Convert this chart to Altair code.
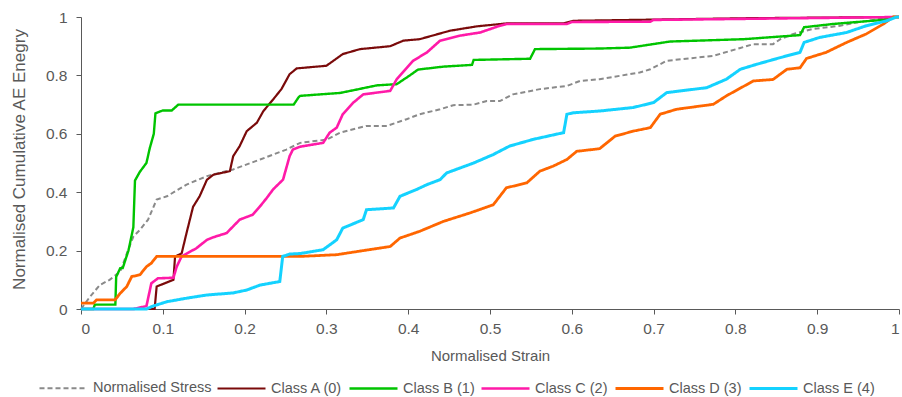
import altair as alt
import pandas as pd

series_names = ["Normalised Stress", "Class A (0)", "Class B (1)", "Class C (2)", "Class D (3)", "Class E (4)"]
series_colors = ["#8a8a8a", "#7a0a0a", "#00c400", "#ff1aa8", "#ff6600", "#14d2ff"]

stress_x = [0, 0.011, 0.023, 0.035, 0.048, 0.056, 0.064, 0.072, 0.082, 0.0925, 0.105, 0.129, 0.154, 0.186, 0.219, 0.251, 0.268, 0.3, 0.317, 0.349, 0.374, 0.398, 0.414, 0.439, 0.455, 0.48, 0.496, 0.512, 0.528, 0.561, 0.594, 0.61, 0.634, 0.683, 0.696, 0.716, 0.773, 0.806, 0.822, 0.846, 0.855, 0.871, 0.895, 0.928, 0.952, 0.993, 1.0]
stress_y = [0, 0.042, 0.082, 0.1, 0.128, 0.19, 0.248, 0.271, 0.306, 0.375, 0.386, 0.426, 0.455, 0.478, 0.512, 0.546, 0.569, 0.58, 0.604, 0.627, 0.627, 0.65, 0.667, 0.684, 0.698, 0.7, 0.712, 0.712, 0.735, 0.753, 0.764, 0.781, 0.787, 0.81, 0.821, 0.85, 0.867, 0.894, 0.907, 0.907, 0.924, 0.942, 0.959, 0.97, 0.983, 1.0, 1.0]

a_x = [0, 0.09, 0.0925, 0.113, 0.115, 0.123, 0.129, 0.137, 0.145, 0.154, 0.162, 0.182, 0.186, 0.194, 0.2026, 0.215, 0.223, 0.235, 0.245, 0.255, 0.2637, 0.3, 0.32, 0.341, 0.378, 0.394, 0.414, 0.451, 0.484, 0.52, 0.589, 0.602, 0.818, 1.0]
a_y = [0, 0, 0.077, 0.10, 0.18, 0.19, 0.26, 0.35, 0.386, 0.443, 0.46, 0.472, 0.523, 0.558, 0.609, 0.638, 0.678, 0.718, 0.753, 0.804, 0.824, 0.833, 0.873, 0.89, 0.90, 0.919, 0.924, 0.953, 0.968, 0.978, 0.978, 0.987, 0.996, 1.0]

b_x = [0, 0.015, 0.017, 0.042, 0.043, 0.048, 0.051, 0.058, 0.064, 0.066, 0.072, 0.08, 0.084, 0.089, 0.091, 0.1, 0.111, 0.119, 0.26, 0.266, 0.268, 0.317, 0.362, 0.386, 0.402, 0.412, 0.443, 0.478, 0.48, 0.549, 0.555, 0.634, 0.671, 0.72, 0.81, 0.879, 0.884, 0.919, 0.98, 0.993, 1.0]
b_y = [0, 0, 0.015, 0.015, 0.11, 0.14, 0.14, 0.2, 0.28, 0.44, 0.47, 0.5, 0.55, 0.6, 0.67, 0.68, 0.68, 0.7, 0.7, 0.725, 0.73, 0.74, 0.766, 0.77, 0.8, 0.82, 0.83, 0.836, 0.853, 0.857, 0.89, 0.892, 0.895, 0.916, 0.924, 0.938, 0.965, 0.976, 0.99, 1.0, 1.0]

c_x = [0, 0.064, 0.08, 0.086, 0.094, 0.113, 0.117, 0.123, 0.141, 0.154, 0.162, 0.178, 0.186, 0.194, 0.21, 0.219, 0.227, 0.235, 0.247, 0.255, 0.259, 0.268, 0.296, 0.304, 0.3126, 0.32, 0.333, 0.345, 0.378, 0.386, 0.406, 0.423, 0.439, 0.463, 0.488, 0.512, 0.52, 0.594, 0.6, 0.696, 0.7, 1.0]
c_y = [0, 0, 0.01, 0.088, 0.105, 0.107, 0.145, 0.18, 0.208, 0.237, 0.246, 0.26, 0.283, 0.306, 0.323, 0.352, 0.38, 0.41, 0.443, 0.523, 0.546, 0.556, 0.569, 0.604, 0.621, 0.667, 0.707, 0.735, 0.747, 0.787, 0.85, 0.879, 0.919, 0.936, 0.947, 0.97, 0.976, 0.976, 0.983, 0.984, 0.99, 1.0]

d_x = [0, 0.015, 0.019, 0.0416, 0.048, 0.056, 0.062, 0.072, 0.08, 0.086, 0.0925, 0.268, 0.3126, 0.345, 0.378, 0.39, 0.414, 0.443, 0.4756, 0.504, 0.512, 0.52, 0.545, 0.561, 0.577, 0.594, 0.606, 0.634, 0.653, 0.675, 0.696, 0.708, 0.728, 0.773, 0.789, 0.822, 0.846, 0.863, 0.879, 0.887, 0.911, 0.936, 0.96, 0.981, 0.993, 1.0]
d_y = [0.02, 0.02, 0.031, 0.031, 0.054, 0.077, 0.111, 0.117, 0.145, 0.157, 0.18, 0.18, 0.186, 0.2, 0.214, 0.243, 0.266, 0.3, 0.329, 0.357, 0.386, 0.415, 0.432, 0.472, 0.489, 0.512, 0.54, 0.549, 0.592, 0.609, 0.621, 0.667, 0.684, 0.701, 0.73, 0.781, 0.786, 0.821, 0.826, 0.858, 0.879, 0.913, 0.942, 0.976, 1.0, 1.0]

e_x = [0, 0.08, 0.088, 0.105, 0.129, 0.154, 0.186, 0.2026, 0.219, 0.243, 0.2466, 0.255, 0.268, 0.296, 0.3126, 0.32, 0.345, 0.349, 0.382, 0.39, 0.41, 0.423, 0.439, 0.447, 0.48, 0.504, 0.524, 0.553, 0.59, 0.594, 0.602, 0.634, 0.675, 0.7, 0.716, 0.765, 0.789, 0.806, 0.826, 0.855, 0.879, 0.884, 0.903, 0.936, 0.96, 0.985, 0.997, 1.0]
e_y = [0, 0, 0.01, 0.025, 0.037, 0.048, 0.055, 0.065, 0.082, 0.094, 0.18, 0.188, 0.19, 0.203, 0.237, 0.277, 0.306, 0.34, 0.346, 0.386, 0.409, 0.426, 0.443, 0.466, 0.5, 0.529, 0.558, 0.581, 0.604, 0.667, 0.672, 0.678, 0.69, 0.707, 0.741, 0.758, 0.787, 0.821, 0.838, 0.861, 0.879, 0.913, 0.93, 0.947, 0.97, 0.987, 1.0, 1.0]

x_ticks = [0, 0.1, 0.2, 0.3, 0.4, 0.5, 0.6, 0.7, 0.8, 0.9, 1]
y_ticks = [0, 0.2, 0.4, 0.6, 0.8, 1]

all_x = [stress_x, a_x, b_x, c_x, d_x, e_x]
all_y = [stress_y, a_y, b_y, c_y, d_y, e_y]

rows = []
for k, (name, xs, ys) in enumerate(zip(series_names, all_x, all_y)):
    for i, (xv, yv) in enumerate(zip(xs, ys)):
        rows.append({"series": name, "strain": xv, "energy": yv, "idx": i})
df = pd.DataFrame(rows)

grey = "#595959"
font = "Liberation Sans"

legend = alt.Legend(
    orient="none", legendX=-43, legendY=346, direction="horizontal", columns=6,
    title=None, symbolType="stroke", symbolSize=2304, symbolStrokeWidth=3,
    labelFontSize=14.5, labelColor=grey, labelFont=font, columnPadding=1, labelOffset=4,
)

base = alt.Chart(df).mark_line(clip=False).encode(
    x=alt.X("strain:Q", scale=alt.Scale(domain=[0, 1], nice=False),
            axis=alt.Axis(values=x_ticks, format="~g", title="Normalised Strain",
                          labelPadding=7, titleY=46, titleBaseline="middle")),
    y=alt.Y("energy:Q", scale=alt.Scale(domain=[0, 1], nice=False),
            axis=alt.Axis(values=y_ticks, format="~g", title="Normalised Cumulative AE Enegry",
                          labelPadding=9, titleX=-62, titleY=142, titleBaseline="middle",
                          titleAlign="center", titleAngle=-90, titleFontSize=17)),
    color=alt.Color("series:N", scale=alt.Scale(domain=series_names, range=series_colors), legend=legend),
    strokeDash=alt.StrokeDash("series:N", scale=alt.Scale(domain=series_names,
                              range=[[5, 3], [1, 0], [1, 0], [1, 0], [1, 0], [1, 0]]), legend=legend),
    strokeWidth=alt.StrokeWidth("series:N", scale=alt.Scale(domain=series_names,
                                range=[2, 3, 3, 3, 3, 3]), legend=legend),
    order=alt.Order("idx:Q"),
)

layers = [base.transform_filter(alt.datum.series == name) for name in series_names]

chart = alt.layer(*layers).properties(
    width=818, height=292,
    padding={"left": 81, "top": 17, "right": 3, "bottom": 88},
    autosize=alt.AutoSizeParams(type="none"),
).configure_view(stroke=None).configure_axis(
    grid=False, domainColor=grey, tickColor=grey, labelColor=grey, titleColor=grey,
    labelFont=font, titleFont=font, labelFontSize=15.5, titleFontSize=15,
    titleFontWeight="normal", tickSize=5, domainWidth=1, tickWidth=1,
)

chart.save("out.html", embed_options={"renderer": "svg", "actions": False})
